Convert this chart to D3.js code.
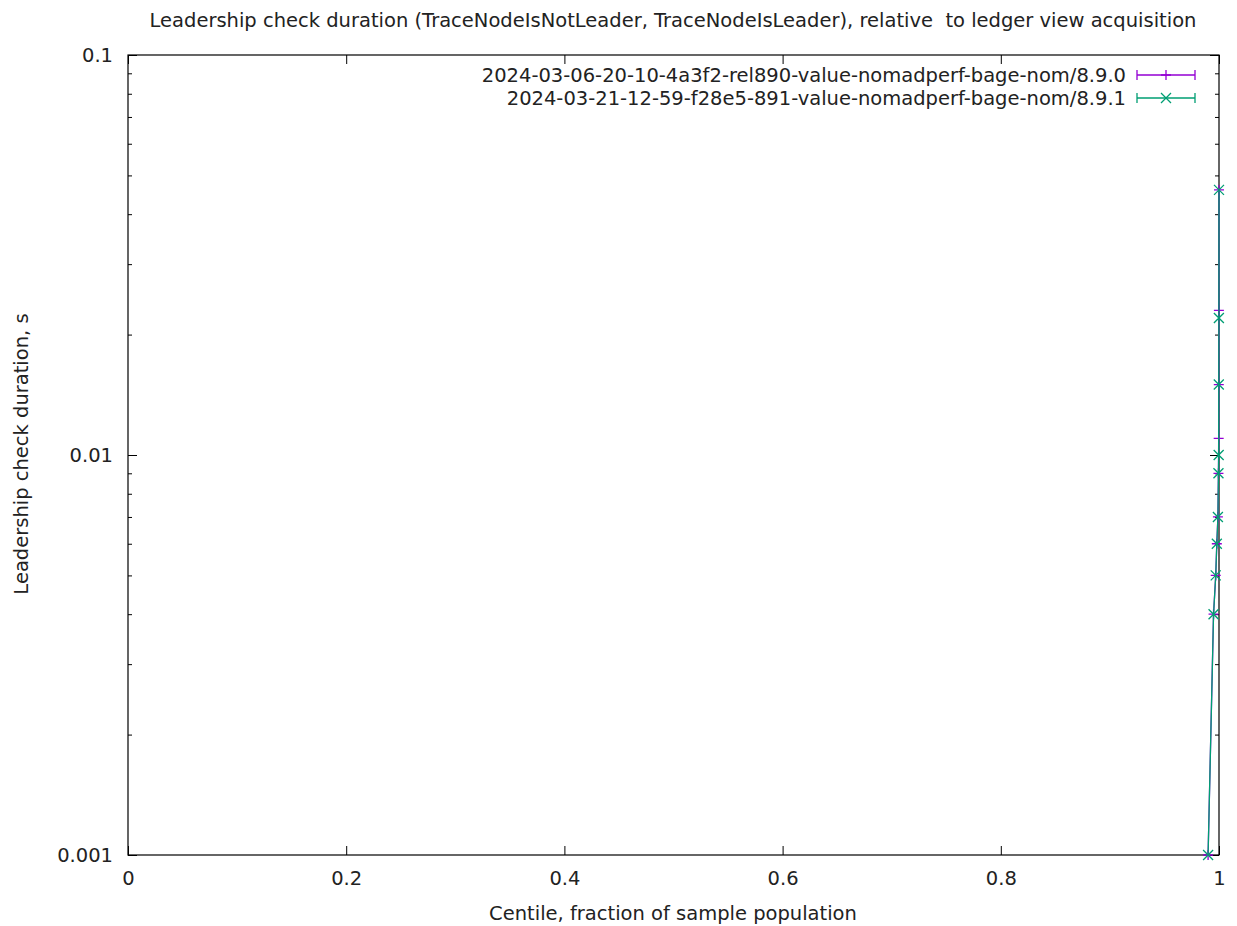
<!DOCTYPE html>
<html><head><meta charset="utf-8">
<script src="https://cdn.jsdelivr.net/npm/d3@7"></script>
<style>body{margin:0;background:#fff}svg{display:block}text{font-family:"DejaVu Sans",sans-serif;fill:#222;white-space:pre}</style>
</head><body><svg id="c" width="1237" height="926"></svg>
<script>
const centiles = [0.99, 0.995, 0.997, 0.998, 0.999, 0.9995, 0.9997, 0.9998, 0.9999, 1.0];
const rel890 = [0.001, 0.004, 0.005, 0.006, 0.007, 0.009, 0.011, 0.015, 0.023, 0.046];
const rel891 = [0.001, 0.004, 0.005, 0.006, 0.007, 0.009, 0.010, 0.015, 0.022, 0.046];
const seriesNames = ["2024-03-06-20-10-4a3f2-rel890-value-nomadperf-bage-nom/8.9.0",
                     "2024-03-21-12-59-f28e5-891-value-nomadperf-bage-nom/8.9.1"];
const xTicks = [0, 0.2, 0.4, 0.6, 0.8, 1];
const yTicks = [0.001, 0.01, 0.1];
const title = "Leadership check duration (TraceNodeIsNotLeader, TraceNodeIsLeader), relative  to ledger view acquisition";

const colors = ["#9400d3", "#009e73"];
const L = 128, R = 1219, T = 55, B = 855;
const svg = d3.select("#c");
const x = d3.scaleLinear().domain([0, 1]).range([L, R]);
const y = d3.scaleLog().domain([0.001, 0.1]).range([B, T]);
const fs = 19.5;

// minor ticks
const minor = [];
for (let d = 0.001; d < 0.1; d *= 10) for (let k = 2; k <= 9; k++) minor.push(d * k);

const g = svg.append("g");
const yl = g.append("g").attr("transform", `translate(${L},0)`)
  .call(d3.axisLeft(y).tickValues(yTicks).tickFormat(d => d3.format("")(d)).tickSize(-9).tickPadding(15));
yl.selectAll("text").style("font-size", fs + "px");
g.append("g").attr("transform", `translate(${L},0)`).call(d3.axisLeft(y).tickValues(minor).tickFormat("").tickSize(-4));
g.append("g").attr("transform", `translate(${R},0)`).call(d3.axisRight(y).tickValues(yTicks).tickFormat("").tickSize(-9));
g.append("g").attr("transform", `translate(${R},0)`).call(d3.axisRight(y).tickValues(minor).tickFormat("").tickSize(-4));
const xb = g.append("g").attr("transform", `translate(0,${B})`)
  .call(d3.axisBottom(x).tickValues(xTicks).tickFormat(d3.format("")).tickSize(-9).tickPadding(16));
xb.selectAll("text").style("font-size", fs + "px");
g.append("g").attr("transform", `translate(0,${T})`).call(d3.axisTop(x).tickValues(xTicks).tickFormat("").tickSize(-9));
g.selectAll(".domain").remove();
g.selectAll(".tick line").attr("stroke", "#000");
g.selectAll(".tick text").attr("fill", "#222");
svg.append("rect").attr("x", L).attr("y", T).attr("width", R - L).attr("height", B - T)
  .attr("fill", "none").attr("stroke", "#000").attr("stroke-width", 1.2);

// labels
svg.append("text").attr("x", 673).attr("y", 27).attr("text-anchor", "middle").style("font-size", fs + "px").text(title);
svg.append("text").attr("x", 673).attr("y", 920).attr("text-anchor", "middle").style("font-size", fs + "px").text("Centile, fraction of sample population");
svg.append("text").attr("transform", "translate(28,454) rotate(-90)").attr("text-anchor", "middle").style("font-size", fs + "px").text("Leadership check duration, s");

// series
const data = [rel890, rel891];
const line = d3.line().x((d, i) => x(centiles[i])).y(d => y(d));
function marker(sel, type, cx, cy, col) {
  const s = 5;
  if (type === 0) {
    sel.append("path").attr("d", `M${cx - s},${cy}H${cx + s}M${cx},${cy - s}V${cy + s}`).attr("stroke", col).attr("stroke-width", 1.3);
  } else {
    sel.append("path").attr("d", `M${cx - s},${cy - s}L${cx + s},${cy + s}M${cx - s},${cy + s}L${cx + s},${cy - s}`).attr("stroke", col).attr("stroke-width", 1.3);
  }
}
data.forEach((vals, si) => {
  const sg = svg.append("g");
  sg.append("path").datum(vals).attr("d", line).attr("fill", "none").attr("stroke", colors[si]).attr("stroke-width", 1.3);
  vals.forEach((v, i) => marker(sg, si, x(centiles[i]), y(v), colors[si]));
  const ly = 75 + si * 23;
  svg.append("text").attr("x", 1126).attr("y", ly + 7).attr("text-anchor", "end").style("font-size", fs + "px").text(seriesNames[si]);
  svg.append("path").attr("d", `M1137,${ly}H1195M1137,${ly - 5}V${ly + 5}M1195,${ly - 5}V${ly + 5}`).attr("stroke", colors[si]).attr("stroke-width", 1.3).attr("fill", "none");
  marker(svg, si, 1166, ly, colors[si]);
});
</script></body></html>
